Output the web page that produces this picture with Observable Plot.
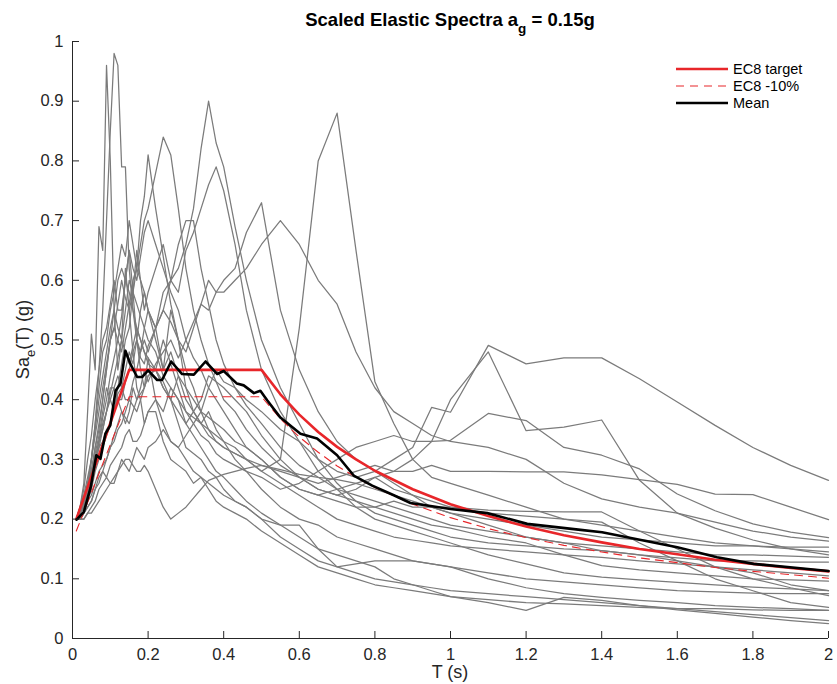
<!DOCTYPE html>
<html><head><meta charset="utf-8">
<script src="https://cdn.jsdelivr.net/npm/d3@7"></script>
<script src="https://cdn.jsdelivr.net/npm/@observablehq/plot@0.6"></script>
<style>
body{margin:0;background:#fff;font-family:"Liberation Sans",Arial,Helvetica,sans-serif}
#chart{position:relative;width:837px;height:684px}
</style>
</head><body><div id="chart"></div>
<script>
// Periods (s) at which every record spectrum is sampled
const periods = [0.01,0.02,0.03,0.04,0.05,0.06,0.07,0.08,0.09,0.10, 0.11,0.12,0.13,0.14,0.15,0.16,0.17,0.18,0.19,0.20,
  0.22,0.24,0.26,0.28,0.30,0.32,0.34,0.36,0.38,0.40, 0.43,0.46,0.50,
  0.55,0.60,0.65,0.70,0.75,0.80,0.85,0.90,0.95,1.0, 1.1,1.2,1.3,1.4,1.5,1.6,1.7,1.8,1.9,2.0];

// Scaled record spectra Sa (g)
const rec01 = [0.20,0.21,0.23,0.26,0.30,0.36,0.45,0.55,0.70,0.85, 0.98,0.96,0.79,0.79,0.62,0.55,0.50,0.45,0.42,0.47,
  0.40,0.36,0.33,0.32,0.30,0.28,0.27,0.26,0.25,0.24, 0.23,0.22,0.20,
  0.17,0.15,0.13,0.12,0.11,0.10,0.095,0.09,0.085,0.08, 0.075,0.07,0.065,0.06,0.055,0.05,0.045,0.04,0.035,0.03];
const rec02 = [0.20,0.22,0.26,0.38,0.51,0.45,0.69,0.65,0.96,0.80, 0.55,0.45,0.50,0.62,0.55,0.48,0.42,0.40,0.36,0.38,
  0.38,0.33,0.30,0.29,0.28,0.26,0.27,0.25,0.23,0.22, 0.21,0.20,0.18,
  0.16,0.14,0.12,0.11,0.10,0.09,0.085,0.08,0.075,0.07, 0.065,0.06,0.058,0.055,0.052,0.05,0.05,0.048,0.047,0.047];
const rec03 = [0.20,0.21,0.22,0.25,0.30,0.36,0.42,0.48,0.50,0.55, 0.58,0.62,0.66,0.64,0.70,0.66,0.62,0.70,0.74,0.81,
  0.72,0.64,0.56,0.50,0.45,0.42,0.38,0.35,0.33,0.32, 0.31,0.30,0.28,
  0.26,0.24,0.22,0.20,0.19,0.18,0.17,0.165,0.16,0.155, 0.15,0.145,0.14,0.136,0.13,0.125,0.12,0.115,0.11,0.105];
const rec04 = [0.20,0.20,0.21,0.24,0.28,0.32,0.36,0.40,0.45,0.50, 0.52,0.56,0.60,0.57,0.55,0.58,0.62,0.66,0.70,0.72,
  0.78,0.84,0.81,0.72,0.62,0.55,0.50,0.46,0.43,0.40, 0.38,0.35,0.32,
  0.29,0.27,0.25,0.24,0.23,0.22,0.21,0.20,0.19,0.185, 0.17,0.16,0.14,0.122,0.115,0.11,0.105,0.10,0.098,0.096];
const rec05 = [0.20,0.20,0.21,0.23,0.25,0.28,0.30,0.32,0.34,0.36, 0.38,0.41,0.42,0.40,0.40,0.43,0.45,0.48,0.50,0.48,
  0.52,0.55,0.60,0.62,0.66,0.72,0.82,0.90,0.83,0.79, 0.69,0.60,0.50,
  0.42,0.36,0.30,0.26,0.23,0.21,0.20,0.19,0.18,0.17, 0.16,0.155,0.15,0.147,0.14,0.135,0.13,0.13,0.128,0.128];
const rec06 = [0.20,0.21,0.22,0.24,0.27,0.30,0.33,0.36,0.38,0.40, 0.42,0.44,0.42,0.45,0.48,0.46,0.50,0.48,0.52,0.55,
  0.52,0.58,0.60,0.58,0.65,0.68,0.72,0.76,0.79,0.75, 0.66,0.55,0.45,
  0.38,0.33,0.28,0.25,0.22,0.20,0.19,0.18,0.17,0.16, 0.14,0.125,0.11,0.103,0.098,0.094,0.09,0.086,0.083,0.08];
const rec07 = [0.20,0.20,0.21,0.22,0.23,0.25,0.26,0.28,0.27,0.29, 0.30,0.31,0.32,0.34,0.35,0.33,0.33,0.34,0.36,0.38,
  0.40,0.38,0.42,0.40,0.38,0.37,0.36,0.34,0.33,0.32, 0.31,0.30,0.28,
  0.30,0.52,0.80,0.88,0.65,0.43,0.36,0.30,0.27,0.26, 0.24,0.22,0.20,0.19,0.18,0.17,0.16,0.155,0.15,0.145];
const rec08 = [0.20,0.21,0.23,0.25,0.28,0.30,0.33,0.35,0.38,0.42, 0.42,0.40,0.40,0.43,0.45,0.48,0.50,0.47,0.46,0.49,
  0.52,0.55,0.53,0.50,0.48,0.52,0.56,0.55,0.58,0.60, 0.62,0.68,0.73,
  0.55,0.45,0.38,0.33,0.30,0.28,0.26,0.24,0.22,0.21, 0.20,0.19,0.18,0.17,0.165,0.16,0.155,0.155,0.153,0.153];
const rec09 = [0.20,0.21,0.23,0.26,0.28,0.30,0.32,0.33,0.35,0.36, 0.38,0.40,0.38,0.36,0.38,0.42,0.40,0.42,0.45,0.43,
  0.46,0.48,0.50,0.47,0.50,0.53,0.56,0.60,0.58,0.58, 0.60,0.62,0.66,
  0.70,0.66,0.60,0.56,0.48,0.42,0.38,0.36,0.34,0.33, 0.32,0.30,0.26,0.234,0.22,0.21,0.195,0.18,0.17,0.163];
const rec10 = [0.20,0.20,0.20,0.21,0.22,0.23,0.25,0.26,0.27,0.26, 0.26,0.28,0.30,0.29,0.28,0.30,0.32,0.31,0.30,0.32,
  0.33,0.35,0.33,0.32,0.34,0.36,0.38,0.42,0.45,0.43, 0.42,0.40,0.38,
  0.35,0.33,0.30,0.28,0.27,0.28,0.30,0.32,0.387,0.379, 0.491,0.46,0.47,0.47,0.435,0.396,0.357,0.32,0.29,0.265];
const rec11 = [0.20,0.20,0.21,0.23,0.24,0.26,0.28,0.29,0.30,0.32, 0.34,0.36,0.38,0.37,0.36,0.38,0.40,0.41,0.42,0.44,
  0.45,0.43,0.40,0.38,0.36,0.38,0.40,0.44,0.43,0.42, 0.40,0.38,0.34,
  0.30,0.27,0.25,0.24,0.25,0.27,0.28,0.30,0.33,0.40, 0.48,0.348,0.354,0.366,0.265,0.21,0.185,0.165,0.15,0.14];
const rec12 = [0.20,0.21,0.22,0.24,0.26,0.29,0.32,0.35,0.38,0.41, 0.44,0.47,0.50,0.48,0.46,0.49,0.52,0.50,0.48,0.46,
  0.45,0.50,0.46,0.42,0.38,0.36,0.34,0.33,0.31,0.30, 0.29,0.28,0.27,
  0.25,0.26,0.28,0.30,0.32,0.33,0.34,0.33,0.33,0.332, 0.377,0.365,0.32,0.307,0.284,0.242,0.214,0.192,0.178,0.169];
const rec13 = [0.20,0.20,0.21,0.22,0.23,0.25,0.27,0.28,0.30,0.32, 0.33,0.35,0.36,0.38,0.40,0.39,0.38,0.40,0.42,0.44,
  0.45,0.42,0.40,0.44,0.40,0.38,0.36,0.35,0.34,0.33, 0.32,0.30,0.29,
  0.28,0.27,0.26,0.27,0.28,0.29,0.28,0.28,0.29,0.28, 0.28,0.279,0.279,0.274,0.266,0.258,0.242,0.241,0.22,0.199];
const rec14 = [0.20,0.21,0.23,0.26,0.28,0.32,0.35,0.40,0.45,0.50, 0.55,0.52,0.50,0.55,0.60,0.58,0.56,0.54,0.52,0.50,
  0.48,0.44,0.42,0.40,0.36,0.34,0.32,0.30,0.28,0.27, 0.25,0.23,0.21,
  0.19,0.19,0.15,0.12,0.125,0.13,0.13,0.13,0.125,0.12, 0.10,0.085,0.075,0.069,0.064,0.06,0.055,0.052,0.05,0.047];
const rec15 = [0.20,0.22,0.24,0.27,0.30,0.35,0.40,0.44,0.48,0.52, 0.55,0.60,0.62,0.60,0.58,0.55,0.52,0.50,0.48,0.47,
  0.45,0.42,0.40,0.36,0.32,0.31,0.30,0.28,0.27,0.25, 0.23,0.22,0.20,
  0.19,0.17,0.15,0.14,0.13,0.12,0.10,0.09,0.08,0.07, 0.06,0.047,0.069,0.064,0.055,0.048,0.042,0.036,0.03,0.025];
const rec16 = [0.20,0.20,0.20,0.21,0.21,0.22,0.23,0.24,0.25,0.26, 0.27,0.28,0.29,0.30,0.30,0.29,0.28,0.28,0.29,0.28,
  0.25,0.22,0.20,0.21,0.22,0.235,0.25,0.265,0.27,0.275, 0.28,0.285,0.29,
  0.283,0.275,0.27,0.266,0.26,0.25,0.24,0.23,0.22,0.21, 0.19,0.17,0.16,0.147,0.14,0.13,0.12,0.11,0.09,0.08];
const rec17 = [0.20,0.21,0.23,0.25,0.30,0.34,0.38,0.42,0.46,0.50, 0.52,0.50,0.48,0.52,0.56,0.60,0.62,0.60,0.58,0.55,
  0.50,0.45,0.48,0.44,0.42,0.40,0.38,0.37,0.36,0.35, 0.33,0.32,0.30,
  0.27,0.25,0.24,0.23,0.22,0.22,0.23,0.22,0.22,0.22, 0.215,0.213,0.212,0.212,0.18,0.15,0.12,0.10,0.085,0.072];
const rec18 = [0.20,0.21,0.22,0.25,0.27,0.30,0.33,0.37,0.40,0.44, 0.47,0.50,0.54,0.60,0.65,0.62,0.60,0.64,0.68,0.70,
  0.66,0.62,0.58,0.55,0.50,0.47,0.45,0.42,0.40,0.38, 0.35,0.32,0.30,
  0.27,0.25,0.24,0.25,0.26,0.27,0.25,0.24,0.23,0.22, 0.21,0.205,0.20,0.195,0.16,0.13,0.10,0.08,0.06,0.052];
const rec19 = [0.20,0.22,0.25,0.30,0.34,0.40,0.45,0.50,0.52,0.56, 0.60,0.55,0.55,0.60,0.65,0.58,0.50,0.55,0.58,0.55,
  0.52,0.45,0.55,0.50,0.42,0.38,0.36,0.38,0.35,0.33, 0.30,0.28,0.25,
  0.22,0.20,0.19,0.17,0.16,0.15,0.14,0.13,0.125,0.12, 0.11,0.10,0.095,0.09,0.085,0.08,0.078,0.076,0.075,0.075];
const rec20 = [0.20,0.21,0.22,0.25,0.28,0.31,0.34,0.38,0.42,0.40, 0.38,0.42,0.46,0.50,0.52,0.58,0.65,0.60,0.55,0.58,
  0.62,0.66,0.60,0.66,0.70,0.70,0.62,0.56,0.50,0.46, 0.42,0.39,0.36,
  0.32,0.29,0.27,0.25,0.24,0.23,0.22,0.21,0.20,0.19, 0.18,0.17,0.16,0.155,0.15,0.145,0.14,0.14,0.138,0.136];
const records = [rec01,rec02,rec03,rec04,rec05,rec06,rec07,rec08,rec09,rec10,rec11,rec12,rec13,rec14,rec15,rec16,rec17,rec18,rec19,rec20];

// EC8 target spectrum and the -10% bound
const targetT  = [0.01,0.15,0.50,0.55,0.60,0.65,0.70,0.75,0.80,0.90,1.0,1.1,1.2,1.3,1.4,1.5,1.6,1.7,1.8,1.9,2.0];
const targetSa = [0.20,0.45,0.45,0.409,0.375,0.346,0.321,0.30,0.281,0.25,0.225,0.205,0.1875,0.173,0.161,0.15,0.141,0.132,0.125,0.118,0.1125];
const minus10Sa = [0.18,0.405,0.405,0.368,0.3375,0.312,0.289,0.27,0.253,0.225,0.2025,0.184,0.169,0.156,0.145,0.135,0.127,0.119,0.1125,0.107,0.101];

// Mean of scaled records
const meanT  = [0.011,0.03,0.048,0.063,0.074,0.087,0.10,0.114,0.127,0.14,0.153,0.171,0.184,0.20,0.224,0.237,0.261,0.29,0.321,0.352,0.383,0.40,0.435,0.453,0.48,0.497,0.515,0.55,0.603,0.647,0.70,0.744,0.793,0.85,0.894,1.0,1.097,1.203,1.344,1.401,1.6,1.705,1.802,2.0];
const meanSa = [0.199,0.212,0.253,0.307,0.301,0.343,0.357,0.415,0.427,0.482,0.46,0.438,0.438,0.449,0.433,0.433,0.464,0.443,0.442,0.464,0.443,0.448,0.427,0.424,0.411,0.415,0.399,0.37,0.343,0.335,0.307,0.273,0.256,0.24,0.227,0.217,0.21,0.192,0.182,0.178,0.153,0.136,0.125,0.113];

const xTicks = [0,0.2,0.4,0.6,0.8,1,1.2,1.4,1.6,1.8,2];
const yTicks = [0,0.1,0.2,0.3,0.4,0.5,0.6,0.7,0.8,0.9,1];
const legendLabels = ["EC8 target","EC8 -10%","Mean"];

const RED = "#e8262a", GRAY = "#7b7b7b", AX = "#262626";
const FONT = '"Liberation Sans", Arial, Helvetica, sans-serif';
const W = 837, H = 684, mL = 72, mR = 9, mT = 41, mB = 46;
const plotW = W - mL - mR, plotH = H - mT - mB;

const recRows = records.flatMap((r, i) => r.map((v, j) => ({id: i, T: periods[j], Sa: v})));
const targetRows = targetT.map((t, i) => ({T: t, Sa: targetSa[i]}));
const minusRows = targetT.map((t, i) => ({T: t, Sa: minus10Sa[i]}));
const meanRows = meanT.map((t, i) => ({T: t, Sa: meanSa[i]}));
const fmt = d => String(+d.toFixed(1));

const plot = Plot.plot({
  width: W, height: H,
  marginLeft: mL, marginRight: mR, marginTop: mT, marginBottom: mB,
  x: {domain: [0, 2], label: null},
  y: {domain: [0, 1], label: null},
  style: {fontFamily: FONT, fontSize: "16.5px", color: AX, background: "white", overflow: "visible"},
  marks: [
    Plot.line(recRows, {x: "T", y: "Sa", z: "id", stroke: GRAY, strokeWidth: 1.25}),
    Plot.line(targetRows, {x: "T", y: "Sa", stroke: RED, strokeWidth: 2.6}),
    Plot.line(minusRows, {x: "T", y: "Sa", stroke: RED, strokeWidth: 1.1, strokeDasharray: "8,6"}),
    Plot.line(meanRows, {x: "T", y: "Sa", stroke: "black", strokeWidth: 2.6}),
    Plot.ruleX([0], {stroke: AX, strokeWidth: 1}),
    Plot.ruleY([0], {stroke: AX, strokeWidth: 1}),
    Plot.tickX(xTicks, {x: d => d, stroke: AX, insetTop: plotH - 7}),
    Plot.tickY(yTicks, {y: d => d, stroke: AX, insetRight: plotW - 7}),
    Plot.axisX({ticks: xTicks, tickSize: 0, tickPadding: 10, tickFormat: fmt, label: null, fill: AX}),
    Plot.axisY({ticks: yTicks, tickSize: 0, tickPadding: 9, tickFormat: fmt, label: null, fill: AX})
  ]
});
document.getElementById("chart").appendChild(plot);

const svg = d3.select(plot);
// Title
const title = svg.append("text").attr("x", mL + plotW / 2).attr("y", 26)
  .attr("text-anchor", "middle").attr("fill", "black")
  .style("font-family", FONT).style("font-size", "18.5px").style("font-weight", "bold");
title.append("tspan").text("Scaled Elastic Spectra a");
title.append("tspan").attr("dy", 7).style("font-size", "13.5px").text("g");
title.append("tspan").attr("dy", -7).text(" = 0.15g");

// Axis labels
svg.append("text").attr("x", mL + plotW / 2).attr("y", 678).attr("text-anchor", "middle")
  .attr("fill", AX).style("font-family", FONT).style("font-size", "18px").text("T (s)");
const yl = svg.append("text").attr("transform", `translate(29,${mT + plotH / 2}) rotate(-90)`)
  .attr("text-anchor", "middle").attr("fill", AX)
  .style("font-family", FONT).style("font-size", "18px");
yl.append("tspan").text("Sa");
yl.append("tspan").attr("dy", 6).style("font-size", "13px").text("e");
yl.append("tspan").attr("dy", -6).text("(T) (g)");

// Legend
const styles = [{c: RED, w: 2.6, d: null}, {c: RED, w: 1.1, d: "8,6"}, {c: "black", w: 2.6, d: null}];
const lg = svg.append("g");
legendLabels.forEach((lab, i) => {
  const y = 69 + i * 17;
  lg.append("line").attr("x1", 676).attr("x2", 728).attr("y1", y).attr("y2", y)
    .attr("stroke", styles[i].c).attr("stroke-width", styles[i].w)
    .attr("stroke-dasharray", styles[i].d);
  lg.append("text").attr("x", 733).attr("y", y).attr("dy", "0.35em").attr("fill", "black")
    .attr("text-anchor", "start")
    .style("font-family", FONT).style("font-size", "14.5px").text(lab);
});
</script>
</body></html>
